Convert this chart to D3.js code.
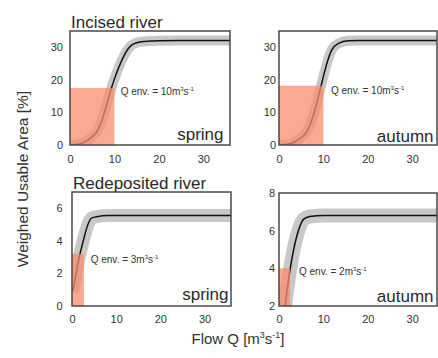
<!DOCTYPE html>
<html>
<head>
<meta charset="utf-8">
<script src="https://cdn.jsdelivr.net/npm/d3@7"></script>
<style>
  body { margin: 0; background: #fff; }
  svg { display: block; font-family: "Liberation Sans", Arial, sans-serif; }
</style>
</head>
<body>
<div id="wrapper"></div>
<script>
// data
const xTicks = [0, 10, 20, 30]
const incisedTicks = [0, 10, 20, 30]
const redSpringTicks = [0, 2, 4, 6]
const redAutumnTicks = [2, 4, 6, 8]

const incSpringQ   = [0, 2, 4, 5, 6, 7, 8, 9, 10, 11, 12, 13, 14, 15, 16, 18, 20, 25, 30, 36]
const incSpringWUA = [0, 0.3, 1.5, 2.6, 4, 6.8, 11.2, 16, 20.3, 23.9, 27, 29.4, 30.8, 31.4, 31.7, 31.9, 32, 32.1, 32.1, 32.1]

const incAutumnQ   = [0, 2, 3.6, 5, 6, 7.4, 8.5, 9.25, 10, 10.8, 11.9, 13.4, 15.6, 18, 25, 36]
const incAutumnWUA = [0, 0.2, 1.0, 2.3, 3.6, 7.7, 12.8, 16.9, 21, 25.1, 29.2, 31.2, 32, 32.1, 32.1, 32.1]

const redSpringQ   = [0, 0.2, 1.4, 2.5, 3.6, 4.4, 5.9, 8, 15, 25, 36]
const redSpringWUA = [0.9, 1.0, 2.7, 3.95, 5.0, 5.4, 5.5, 5.55, 5.55, 5.55, 5.55]

const redAutumnQ   = [1.35, 2.5, 4, 5, 5.5, 7, 10, 20, 36]
const redAutumnWUA = [2.0, 3.95, 5.7, 6.4, 6.6, 6.75, 6.8, 6.8, 6.8]

const envFlow   = [10, 10, 2.7, 2.5]
const envWUA    = [17.5, 18.2, 3.2, 4.0]
const envLabels = ["10", "10", "3", "2"]

const titles  = ["Incised river", null, "Redeposited river", null]
const seasons = ["spring", "autumn", "spring", "autumn"]

async function drawChart() {

  const width = 438
  const height = 358

  const panels = [
    { q: incSpringQ, v: incSpringWUA, yDomain: [0, 35], yTicks: incisedTicks, xMax: 36,
      box: { x: 70, y: 31, w: 160, h: 114 }, yPad: 7, xPad: 10.5, band: 10,
      label: { dx: 50.7, y: 95 }, season: { dx: -6.5, y: 140 } },
    { q: incAutumnQ, v: incAutumnWUA, yDomain: [0, 35], yTicks: incisedTicks, xMax: 35.6,
      box: { x: 279, y: 31, w: 158, h: 114 }, yPad: 3, xPad: 10.5, band: 10,
      label: { dx: 52, y: 94 }, season: { dx: -3.5, y: 142 } },
    { q: redSpringQ, v: redSpringWUA, yDomain: [0, 7], yTicks: redSpringTicks, xMax: 36,
      box: { x: 72, y: 192, w: 159, h: 114 }, yPad: 9.5, xPad: 9, band: 13,
      label: { dx: 18.7, y: 263 }, season: { dx: -2.5, y: 299.5 } },
    { q: redAutumnQ, v: redAutumnWUA, yDomain: [2, 8], yTicks: redAutumnTicks, xMax: 35.6,
      box: { x: 279, y: 193, w: 158, h: 113 }, yPad: 4, xPad: 9, band: 14,
      label: { dx: 20, y: 274.5 }, season: { dx: -3.5, y: 301.5 } },
  ]

  const svg = d3.select("#wrapper")
    .append("svg")
      .attr("width", width)
      .attr("height", height)

  panels.forEach((p, i) => {
    const b = p.box
    const xScale = d3.scaleLinear()
      .domain([0, p.xMax])
      .range([b.x, b.x + b.w])
    const yScale = d3.scaleLinear()
      .domain(p.yDomain)
      .range([b.y + b.h, b.y])

    const clipId = "clip" + i
    svg.append("clipPath")
        .attr("id", clipId)
      .append("rect")
        .attr("x", b.x)
        .attr("y", b.y)
        .attr("width", b.w)
        .attr("height", b.h)

    const g = svg.append("g").attr("clip-path", `url(#${clipId})`)

    const pts = p.q.map((q, k) => [q, p.v[k]])
    const lineGen = d3.line()
      .x(d => xScale(d[0]))
      .y(d => yScale(d[1]))
      .curve(d3.curveMonotoneX)

    // uncertainty band
    g.append("path")
        .attr("d", lineGen(pts))
        .attr("fill", "none")
        .attr("stroke", "#c8c8c8")
        .attr("stroke-width", p.band)
        .attr("stroke-linejoin", "round")

    // mean curve
    g.append("path")
        .attr("d", lineGen(pts))
        .attr("fill", "none")
        .attr("stroke", "#111")
        .attr("stroke-width", 1.5)

    // environmental flow box
    g.append("rect")
        .attr("x", xScale(0))
        .attr("y", yScale(envWUA[i]))
        .attr("width", xScale(envFlow[i]) - xScale(0))
        .attr("height", yScale(p.yDomain[0]) - yScale(envWUA[i]))
        .attr("fill", "#f98e6c")
        .attr("opacity", 0.75)

    // frame
    svg.append("rect")
        .attr("x", b.x)
        .attr("y", b.y)
        .attr("width", b.w)
        .attr("height", b.h)
        .attr("fill", "none")
        .attr("stroke", "#4a4a4a")
        .attr("stroke-width", 1.5)

    // axes (labels only)
    const xAxis = svg.append("g")
        .attr("transform", `translate(0,${b.y + b.h})`)
        .call(d3.axisBottom(xScale).tickValues(xTicks).tickSize(0).tickPadding(p.xPad)
          .tickFormat(d3.format("d")))
    const yAxis = svg.append("g")
        .attr("transform", `translate(${b.x},0)`)
        .call(d3.axisLeft(yScale).tickValues(p.yTicks).tickSize(0).tickPadding(p.yPad)
          .tickFormat(d3.format("d")))
    ;[xAxis, yAxis].forEach(ax => {
      ax.select(".domain").remove()
      ax.selectAll("text")
          .attr("fill", "#333")
          .style("font-size", "11px")
          .style("font-family", "'Liberation Sans', Arial, sans-serif")
    })

    // Q env. label
    const lab = svg.append("text")
        .attr("x", b.x + p.label.dx)
        .attr("y", p.label.y)
        .attr("fill", "#333")
        .style("font-size", "10px")
    lab.append("tspan").text(`Q env. = ${envLabels[i]}m`)
    lab.append("tspan").text("3").style("font-size", "6px").attr("dy", -4)
    lab.append("tspan").text("s").attr("dy", 4)
    lab.append("tspan").text("-1").style("font-size", "6px").attr("dy", -4)

    // season
    svg.append("text")
        .attr("x", b.x + b.w + p.season.dx)
        .attr("y", p.season.y)
        .attr("text-anchor", "end")
        .attr("fill", "#2a2a2a")
        .style("font-size", "17px")
        .text(seasons[i])

    if (titles[i]) {
      svg.append("text")
          .attr("x", b.x + 1)
          .attr("y", b.y - 3.5)
          .attr("fill", "#2a2a2a")
          .style("font-size", "17px")
          .text(titles[i])
    }
  })

  // axis titles
  svg.append("text")
      .attr("transform", "translate(28,179) rotate(-90)")
      .attr("text-anchor", "middle")
      .attr("fill", "#333")
      .style("font-size", "15.5px")
      .text("Weighed Usable Area [%]")

  const xt = svg.append("text")
      .attr("x", 238)
      .attr("y", 343.5)
      .attr("text-anchor", "middle")
      .attr("fill", "#333")
      .style("font-size", "15px")
  xt.append("tspan").text("Flow Q [m")
  xt.append("tspan").text("3").style("font-size", "9px").attr("dy", -6)
  xt.append("tspan").text("s").attr("dy", 6)
  xt.append("tspan").text("-1").style("font-size", "9px").attr("dy", -6)
  xt.append("tspan").text("]").attr("dy", 6)
}

drawChart()
</script>
</body>
</html>
